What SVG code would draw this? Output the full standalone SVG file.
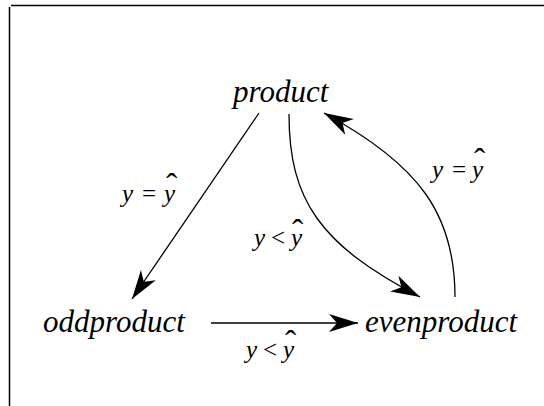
<svg xmlns="http://www.w3.org/2000/svg" width="544" height="406" viewBox="0 0 544 406">
<style>
.node{font-family:"Liberation Serif","Times New Roman",serif;font-style:italic;font-size:31px;fill:#000}
.lbl{font-family:"Liberation Serif","Times New Roman",serif;font-size:25px;fill:#000}
.it{font-style:italic}
.hat{font-size:34px;font-style:normal}
.edge{fill:none;stroke:#000;stroke-width:1.3}
</style>
<defs>
<marker id="ah" markerUnits="userSpaceOnUse" orient="auto" markerWidth="40" markerHeight="30" refX="0" refY="0" viewBox="-32 -15 40 30" overflow="visible">
<path d="M0,0 L-29,-9 L-21,0 L-29,9 Z" fill="#000"/>
</marker>
</defs>
<rect width="544" height="406" fill="#fff"/>
<g id="frame" stroke="#000" stroke-width="1.5">
<line x1="11" y1="5.5" x2="544" y2="5.5"/>
<line x1="9.5" y1="7" x2="9.5" y2="406"/>
</g>
<g id="connectors">
<path class="edge" d="M259,113 L132,299" marker-end="url(#ah)"/>
<path class="edge" d="M289,114 C289,200 320,245 420,297" marker-end="url(#ah)"/>
<path class="edge" d="M455,297 C455,215 420,165 324,113" marker-end="url(#ah)"/>
<path class="edge" d="M211,323 L358,323" marker-end="url(#ah)"/>
</g>
<g id="product"><text class="node" x="233" y="102">product</text></g>
<g id="oddproduct"><text class="node" x="43" y="332">oddproduct</text></g>
<g id="evenproduct"><text class="node" x="365" y="332">evenproduct</text></g>
<g id="label-left">
<text class="lbl"><tspan class="it" x="122" y="202">y</tspan><tspan x="142" y="202">=</tspan><tspan class="it" x="164" y="202">y</tspan><tspan class="hat" x="166" y="197">ˆ</tspan></text>
</g>
<g id="label-right">
<text class="lbl"><tspan class="it" x="432" y="178">y</tspan><tspan x="452" y="178">=</tspan><tspan class="it" x="472" y="178">y</tspan><tspan class="hat" x="474" y="172">ˆ</tspan></text>
</g>
<g id="label-mid">
<text class="lbl"><tspan class="it" x="254" y="246">y</tspan><tspan x="271" y="246">&lt;</tspan><tspan class="it" x="291" y="246">y</tspan><tspan class="hat" x="292" y="243">ˆ</tspan></text>
</g>
<g id="label-bottom">
<text class="lbl"><tspan class="it" x="246" y="358">y</tspan><tspan x="263" y="358">&lt;</tspan><tspan class="it" x="283" y="358">y</tspan><tspan class="hat" x="285" y="354">ˆ</tspan></text>
</g>
</svg>
